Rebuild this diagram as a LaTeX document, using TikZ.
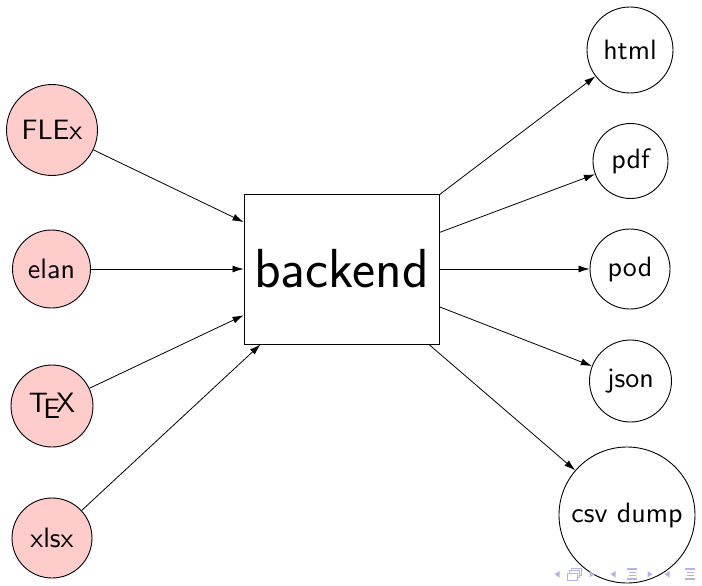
\documentclass[tikz,border=0pt]{standalone}
\usepackage{fontspec}
\newfontfamily\lmsten{lmsans10-regular.otf}
\usetikzlibrary{arrows.meta}
\definecolor{navcol}{RGB}{180,180,225}
\tikzset{
  lbl/.style={font=\lmsten\fontsize{28}{34}\selectfont},
  fmt/.style={draw, circle, lbl, inner sep=-10pt, line width=0.9pt},
  src/.style={fmt, fill=red!20},
  core/.style={draw, rectangle, inner sep=0pt, line width=0.9pt,
    minimum width=195pt, minimum height=150pt,
    font=\sffamily\fontsize{55}{66}\selectfont},
  arr/.style={-{Latex[length=11pt,width=7pt]}, line width=0.8pt},
  navtri/.style={fill=navcol, draw=none},
  navline/.style={draw=navcol, line width=1.1pt}
}
\begin{document}
\begin{tikzpicture}[x=1pt,y=-1pt]
\useasboundingbox (0,0) rectangle (702,586);
% sources
\node[src, minimum size=91pt] (flex) at (52,130) {FLEx};
\node[src, minimum size=78pt] (elan) at (51.5,269) {elan};
\node[src, minimum size=82pt] (tex)  at (52,406) {\TeX};
\node[src, minimum size=80pt] (xlsx) at (52,538) {xlsx};
% backend
\node[core] (backend) at (341.5,269) {backend};
% formats
\node[fmt, minimum size=86pt]  (html) at (630,50)  {html};
\node[fmt, minimum size=75pt]  (pdf)  at (630.5,161) {pdf};
\node[fmt, minimum size=80pt]  (pod)  at (630,269) {pod};
\node[fmt, minimum size=82pt]  (json) at (630.5,381) {json};
\node[fmt, minimum size=136pt] (csv)  at (627,515) {csv dump};
% connectors
\draw[arr] (flex) -- (backend);
\draw[arr] (elan) -- (backend);
\draw[arr] (tex)  -- (backend);
\draw[arr] (xlsx) -- (backend);
\draw[arr] (backend) -- (html);
\draw[arr] (backend) -- (pdf);
\draw[arr] (backend) -- (pod);
\draw[arr] (backend) -- (json);
\draw[arr] (backend) -- (csv);
% navigation symbols
\foreach \x in {557,613,667} {
  \fill[navtri] (\x+2.5,571) -- (\x+2.5,577.5) -- (\x-2.5,574.25) -- cycle;
}
\foreach \x in {592,650} {
  \fill[navtri] (\x-2.5,571) -- (\x-2.5,577.5) -- (\x+2.5,574.25) -- cycle;
}
\draw[draw=navcol, line width=0.9pt, fill=white] (571,568) rectangle (581,575);
\draw[draw=navcol, line width=0.9pt, fill=white] (569,570.5) rectangle (579,577.5);
\draw[draw=navcol, line width=0.9pt, fill=white] (567,573) rectangle (577,580);
\foreach \x in {632,690} {
  \draw[navline] (\x-5,569) -- (\x+5,569);
  \draw[navline] (\x-3,572.5) -- (\x+4,572.5);
  \draw[navline] (\x-3,575.5) -- (\x+4,575.5);
  \draw[navline] (\x-5,579) -- (\x+5,579);
}
\end{tikzpicture}
\end{document}
